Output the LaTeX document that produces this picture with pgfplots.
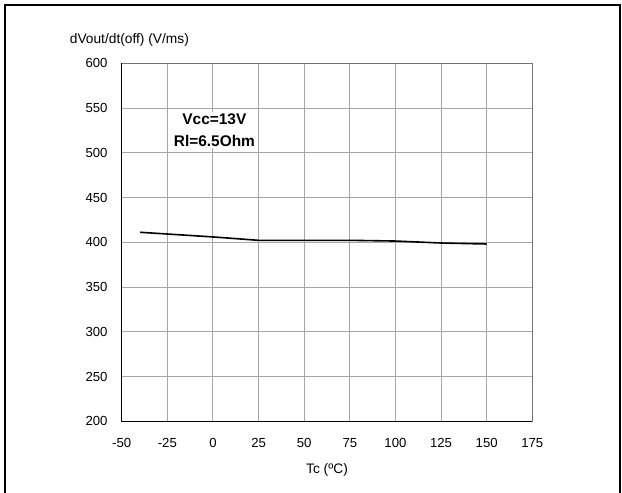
\documentclass[border=0pt]{standalone}
\usepackage{fontspec}
\setmainfont{Liberation Sans}
\usepackage{pgfplots}
\pgfplotsset{compat=1.18}
\begin{document}
\begin{tikzpicture}[x=1bp,y=1bp]
\useasboundingbox (-121.7,-71.7) rectangle (500.3,421.3);
\draw[line width=2bp,black] (-116.7,-75) -- (-116.7,416.3) -- (498.3,416.3) -- (498.3,-75);
\begin{axis}[
  at={(0,0)}, anchor=south west,
  scale only axis, width=410.6bp, height=358bp,
  xmin=-50, xmax=175, ymin=200, ymax=600,
  xtick={-50,-25,...,175}, ytick={200,250,...,600},
  major tick length=0pt,
  grid=major,
  major grid style={draw=black!35, line width=0.9bp},
  axis line style={draw=black!55, line width=1.5bp},
  /pgf/number format/assume math mode=true,
  font=\fontsize{13.2}{15}\selectfont,
  xticklabel style={anchor=center, yshift=-22bp, inner sep=0pt},
  yticklabel style={anchor=east, xshift=-14bp, inner sep=0pt},
  clip=false,
]
\addplot[black, line width=1.6bp] coordinates {
  (-40,411.2) (0,406) (25,402.2) (50,402.2) (75,402.2) (100,401.4) (125,399.2) (150,398.1)
};
\draw[black, line width=1.3bp] (rel axis cs:0,1) -- (rel axis cs:0,0) -- (rel axis cs:1,0);
\node[fill=white, inner sep=1.5bp, align=center, font=\fontsize{15.5}{22}\selectfont\bfseries] at (axis cs:0.8,525) {Vcc=13V\\Rl=6.5Ohm};
\node[anchor=west, inner sep=0pt, font=\fontsize{13.8}{15}\selectfont] at ([xshift=-52bp, yshift=23bp]rel axis cs:0,1) {dVout/dt(off) (V/ms)};
\node[anchor=center, inner sep=0pt, font=\fontsize{13.8}{15}\selectfont] at ([yshift=-49bp]rel axis cs:0.5,0) {Tc (ºC)};
\end{axis}
\end{tikzpicture}
\end{document}
